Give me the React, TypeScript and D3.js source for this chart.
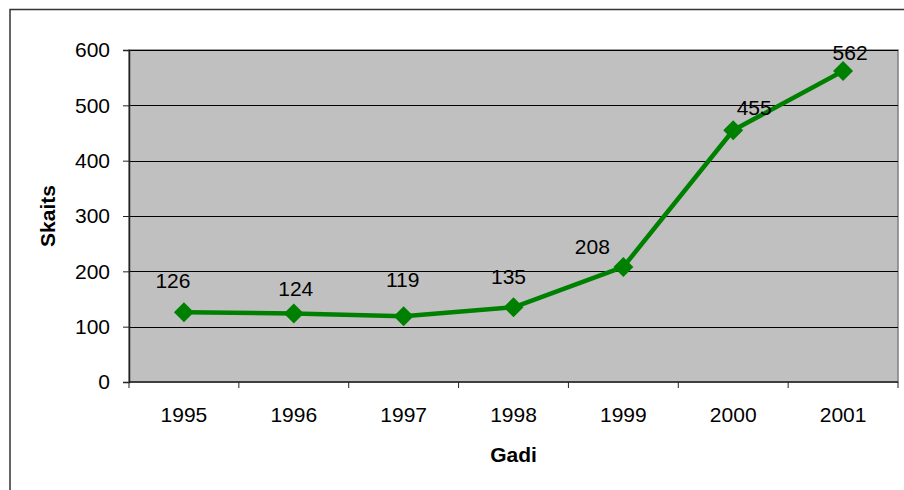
import React, { useEffect, useRef } from "react";
import * as d3 from "d3";

const years = ["1995", "1996", "1997", "1998", "1999", "2000", "2001"];
const counts = [126, 124, 119, 135, 208, 455, 562];
const yTicks = [0, 100, 200, 300, 400, 500, 600];
// hand-placed label nudges (dx, dy to baseline), as in the original chart
const labelNudge: [number, number][] = [
  [-11, -24],
  [2, -17],
  [-1, -29],
  [-5, -23],
  [-31, -13],
  [21, -15],
  [7, -11],
];

const W = 904;
const H = 490;
const margin = { top: 50, right: 6, bottom: 108, left: 129 };
const font = "'Liberation Sans', Arial, sans-serif";
const fs = "21px";

export default function App() {
  const svgRef = useRef<SVGSVGElement>(null);

  useEffect(() => {
    if (!svgRef.current) return;
    const svg = d3.select(svgRef.current);
    svg.selectAll("*").remove();

    const innerW = W - margin.left - margin.right;
    const innerH = H - margin.top - margin.bottom;

    svg.append("rect").attr("width", W).attr("height", H).attr("fill", "white");

    // outer chart border (runs past right/bottom edge)
    svg
      .append("rect")
      .attr("x", 10)
      .attr("y", 9.5)
      .attr("width", W + 20)
      .attr("height", H + 20)
      .attr("fill", "none")
      .attr("stroke", "#333")
      .attr("stroke-width", 1.5);

    const g = svg
      .append("g")
      .attr("transform", `translate(${margin.left},${margin.top})`);

    const x = d3.scaleBand().domain(years).range([0, innerW]);
    const y = d3.scaleLinear().domain([0, 600]).range([innerH, 0]);

    // plot area
    g.append("rect")
      .attr("width", innerW)
      .attr("height", innerH)
      .attr("fill", "#c0c0c0")
      .attr("stroke", "#808080")
      .attr("stroke-width", 1.5);

    // gridlines
    g.append("g")
      .selectAll("line")
      .data(yTicks.filter((t) => t > 0))
      .join("line")
      .attr("x1", 0)
      .attr("x2", innerW)
      .attr("y1", (d) => Math.round(y(d)) + 0.5)
      .attr("y2", (d) => Math.round(y(d)) + 0.5)
      .attr("stroke", "#000")
      .attr("stroke-width", 1);

    // y axis
    const yAxis = g
      .append("g")
      .call(
        d3
          .axisLeft(y)
          .tickValues(yTicks)
          .tickSize(6)
          .tickPadding(13)
      );
    yAxis.select(".domain").attr("stroke", "#222").attr("stroke-width", 1.5);
    yAxis.selectAll(".tick line").attr("stroke", "#222");
    yAxis
      .selectAll("text")
      .attr("fill", "#000")
      .style("font-family", font)
      .style("font-size", fs);

    // x axis with ticks between categories
    const xAxisG = g.append("g").attr("transform", `translate(0,${innerH})`);
    xAxisG
      .append("line")
      .attr("x1", 0)
      .attr("x2", innerW)
      .attr("stroke", "#222")
      .attr("stroke-width", 1.5);
    xAxisG
      .selectAll("line.tk")
      .data(d3.range(years.length + 1))
      .join("line")
      .attr("class", "tk")
      .attr("x1", (i) => i * x.step())
      .attr("x2", (i) => i * x.step())
      .attr("y1", 0)
      .attr("y2", 6)
      .attr("stroke", "#222");
    xAxisG
      .selectAll("text")
      .data(years)
      .join("text")
      .attr("x", (d) => (x(d) || 0) + x.bandwidth() / 2)
      .attr("y", 40)
      .attr("text-anchor", "middle")
      .style("font-family", font)
      .style("font-size", fs)
      .text((d) => d);

    const cx = (i: number) => (x(years[i]) || 0) + x.bandwidth() / 2;

    // line
    const line = d3
      .line<number>()
      .x((_, i) => cx(i))
      .y((d) => y(d));
    g.append("path")
      .datum(counts)
      .attr("fill", "none")
      .attr("stroke", "#008000")
      .attr("stroke-width", 4.5)
      .attr("stroke-linejoin", "round")
      .attr("d", line);

    // diamond markers
    const r = 10;
    g.selectAll("path.mk")
      .data(counts)
      .join("path")
      .attr("class", "mk")
      .attr("transform", (d, i) => `translate(${cx(i)},${y(d)})`)
      .attr("d", `M0,${-r}L${r},0L0,${r}L${-r},0Z`)
      .attr("fill", "#008000");

    // value labels
    g.selectAll("text.lbl")
      .data(counts)
      .join("text")
      .attr("class", "lbl")
      .attr("x", (d, i) => cx(i) + labelNudge[i][0])
      .attr("y", (d, i) => y(d) + labelNudge[i][1])
      .attr("text-anchor", "middle")
      .style("font-family", font)
      .style("font-size", fs)
      .text((d) => d);

    // axis titles
    svg
      .append("text")
      .attr("x", margin.left + innerW / 2)
      .attr("y", 462)
      .attr("text-anchor", "middle")
      .style("font-family", font)
      .style("font-size", fs)
      .style("font-weight", "bold")
      .text("Gadi");

    svg
      .append("text")
      .attr("transform", `translate(55,${margin.top + innerH / 2}) rotate(-90)`)
      .attr("text-anchor", "middle")
      .style("font-family", font)
      .style("font-size", fs)
      .style("font-weight", "bold")
      .text("Skaits");
  }, []);

  return (
    <svg
      ref={svgRef}
      width={W}
      height={H}
      style={{ position: "absolute", left: 0, top: 0, display: "block" }}
    />
  );
}
